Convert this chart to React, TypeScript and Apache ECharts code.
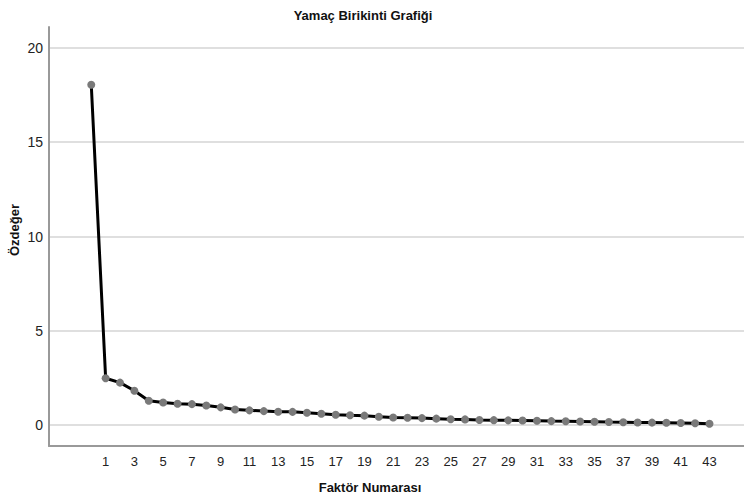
import React, { useEffect, useRef } from "react";
import * as echarts from "echarts";

const factorNumbers = [
  0, 1, 2, 3, 4, 5, 6, 7, 8, 9, 10, 11, 12, 13, 14, 15, 16, 17, 18, 19, 20, 21,
  22, 23, 24, 25, 26, 27, 28, 29, 30, 31, 32, 33, 34, 35, 36, 37, 38, 39, 40,
  41, 42, 43,
];
const eigenvalues = [
  18.05, 2.48, 2.25, 1.82, 1.29, 1.2, 1.13, 1.11, 1.04, 0.94, 0.83, 0.78, 0.74,
  0.71, 0.7, 0.65, 0.6, 0.55, 0.52, 0.5, 0.44, 0.4, 0.39, 0.37, 0.34, 0.31, 0.3,
  0.27, 0.26, 0.25, 0.24, 0.23, 0.21, 0.2, 0.19, 0.18, 0.16, 0.15, 0.14, 0.13,
  0.12, 0.11, 0.1, 0.07,
];
const xTickLabels = [
  1, 3, 5, 7, 9, 11, 13, 15, 17, 19, 21, 23, 25, 27, 29, 31, 33, 35, 37, 39, 41,
  43,
];
const yTickLabels = [0, 5, 10, 15, 20];

const titleText = "Yamaç Birikinti Grafiği";
const xAxisTitle = "Faktör Numarası";
const yAxisTitle = "Özdeğer";

export default function App() {
  const ref = useRef<HTMLDivElement>(null);
  useEffect(() => {
    if (!ref.current) return;
    const chart = echarts.init(ref.current, null, { renderer: "svg" });
    const font = "Arial, 'Liberation Sans', sans-serif";
    chart.setOption({
      animation: false,
      backgroundColor: "#ffffff",
      textStyle: { fontFamily: font },
      grid: { left: 49, right: 0, top: 27, bottom: 52, containLabel: false },
      graphic: [
        {
          type: "text",
          x: 363,
          y: 15,
          style: {
            text: titleText,
            font: `bold 13px ${font}`,
            fill: "#111",
            align: "center",
            verticalAlign: "middle",
          },
        },
        {
          type: "text",
          x: 370,
          y: 487,
          style: {
            text: xAxisTitle,
            font: `bold 13px ${font}`,
            fill: "#111",
            align: "center",
            verticalAlign: "middle",
          },
        },
        {
          type: "text",
          x: 14,
          y: 230,
          rotation: Math.PI / 2,
          style: {
            text: yAxisTitle,
            font: `bold 13px ${font}`,
            fill: "#111",
            align: "center",
            verticalAlign: "middle",
          },
        },
      ],
      xAxis: {
        type: "value",
        min: -2.94,
        max: 45.4,
        axisLine: {
          show: true,
          onZero: false,
          lineStyle: { color: "#999", width: 2 },
        },
        axisTick: { show: false, customValues: xTickLabels },
        axisLabel: {
          customValues: xTickLabels,
          color: "#222",
          fontSize: 13,
          fontFamily: font,
          margin: 9,
        },
        splitLine: { show: false },
      },
      yAxis: {
        type: "value",
        min: -1.11,
        max: 21.11,
        axisLine: {
          show: true,
          onZero: false,
          lineStyle: { color: "#999", width: 2 },
        },
        axisTick: { show: false, customValues: yTickLabels },
        axisLabel: {
          customValues: yTickLabels,
          color: "#222",
          fontSize: 14,
          fontFamily: font,
          margin: 6,
        },
        splitLine: { show: true, lineStyle: { color: "#d4d4d4", width: 1.5 } },
      },
      series: [
        {
          type: "line",
          data: factorNumbers.map((f, i) => [f, eigenvalues[i]]),
          symbol: "circle",
          symbolSize: 8,
          showSymbol: true,
          lineStyle: { color: "#000", width: 3 },
          itemStyle: { color: "#7a7a7a" },
          z: 3,
        },
      ],
    });
    return () => chart.dispose();
  }, []);
  return (
    <div
      ref={ref}
      style={{ position: "fixed", left: 0, top: 0, width: 744, height: 498 }}
    />
  );
}
